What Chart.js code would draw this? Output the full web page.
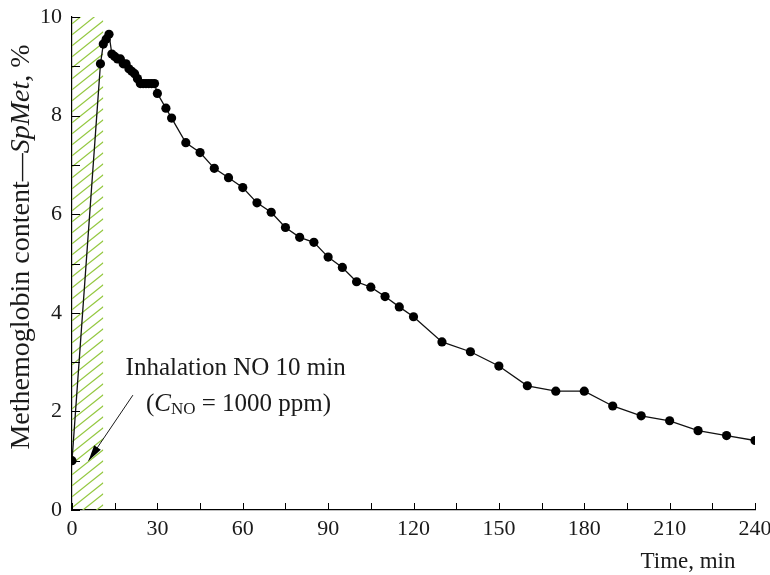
<!DOCTYPE html>
<html>
<head>
<meta charset="utf-8">
<script src="https://cdn.jsdelivr.net/npm/chart.js@4.4.1/dist/chart.umd.min.js"></script>
<style>
  html, body { margin: 0; padding: 0; background: #fff; }
  #wrap { width: 770px; height: 575px; position: relative; }
</style>
</head>
<body>
<div id="wrap"><canvas id="c" width="770" height="575"></canvas></div>
<script>
// ---- data ----
const timeMin = [0, 10, 11, 12, 13, 14, 15, 16, 17, 18, 19, 20, 21, 22, 23, 24, 25, 26, 27, 28, 29,
  30, 33, 35, 40, 45, 50, 55, 60, 65, 70, 75, 80, 85, 90, 95, 100, 105, 110, 115, 120,
  130, 140, 150, 160, 170, 180, 190, 200, 210, 220, 230, 240];
const spMet = [1.0, 9.05, 9.45, 9.55, 9.65, 9.25, 9.2, 9.15, 9.15, 9.05, 9.05, 8.95, 8.9, 8.85, 8.75, 8.65, 8.65, 8.65, 8.65, 8.65, 8.65,
  8.45, 8.15, 7.95, 7.45, 7.25, 6.93, 6.74, 6.54, 6.23, 6.04, 5.73, 5.53, 5.43, 5.13, 4.92, 4.63, 4.52, 4.33, 4.12, 3.92,
  3.41, 3.21, 2.92, 2.52, 2.41, 2.41, 2.11, 1.91, 1.81, 1.61, 1.51, 1.41];
const inhalationWindow = [0, 11];          // minutes (hatched band)
const xTickLabels = [0, 30, 60, 90, 120, 150, 180, 210, 240];
const yTickLabels = [0, 2, 4, 6, 8, 10];
const annotationLine1 = 'Inhalation NO 10 min';
const xTitle = 'Time, min';

const SERIF = '"Liberation Serif", "Times New Roman", serif';

const points = timeMin.map((t, i) => ({ x: t, y: spMet[i] }));

const customDraw = {
  id: 'customDraw',
  beforeDatasetsDraw(chart) {
    const { ctx, chartArea: a, scales: { x, y } } = chart;
    // hatched inhalation band
    const x0 = x.getPixelForValue(inhalationWindow[0]);
    const x1 = x.getPixelForValue(inhalationWindow[1]);
    ctx.save();
    ctx.beginPath();
    ctx.rect(x0, a.top, x1 - x0, a.bottom - a.top);
    ctx.clip();
    ctx.strokeStyle = '#94c840';
    ctx.lineWidth = 1.2;
    const step = 11;
    const w = x1 - x0;
    for (let k = a.top - w - 20; k < a.bottom + 20; k += step) {
      ctx.beginPath();
      ctx.moveTo(x0, k + w * 0.8);
      ctx.lineTo(x1, k);
      ctx.stroke();
    }
    ctx.restore();
  },
  afterDraw(chart) {
    const { ctx, chartArea: a, scales: { x, y } } = chart;
    ctx.save();
    // inward minor/major ticks
    ctx.strokeStyle = '#000';
    ctx.lineWidth = 1;
    for (let v = 0; v <= 240; v += 15) {
      const px = Math.round(x.getPixelForValue(v)) + 0.5;
      ctx.beginPath();
      ctx.moveTo(px, a.bottom);
      ctx.lineTo(px, a.bottom - 7);
      ctx.stroke();
    }
    for (let v = 0; v <= 10; v += 1) {
      const py = Math.round(y.getPixelForValue(v)) + 0.5;
      ctx.beginPath();
      ctx.moveTo(a.left, py);
      ctx.lineTo(a.left + 8, py);
      ctx.stroke();
    }
    // y-axis title with italic part
    ctx.fillStyle = '#1a1a1a';
    ctx.textBaseline = 'middle';
    const parts = [
      { t: 'Methemoglobin content\u2014', f: '28px ' + SERIF },
      { t: 'SpMet', f: 'italic 28px ' + SERIF },
      { t: ', %', f: '28px ' + SERIF }
    ];
    let total = 0;
    parts.forEach(p => { ctx.font = p.f; p.w = ctx.measureText(p.t).width; total += p.w; });
    ctx.translate(22, 247);
    ctx.rotate(-Math.PI / 2);
    let cx = -total / 2;
    ctx.textAlign = 'left';
    parts.forEach(p => { ctx.font = p.f; ctx.fillText(p.t, cx, 0); cx += p.w; });
    ctx.setTransform(1, 0, 0, 1, 0, 0);

    // x-axis title
    ctx.font = '23px ' + SERIF;
    ctx.textAlign = 'center';
    ctx.textBaseline = 'middle';
    ctx.fillText(xTitle, 688, 562);

    // annotation text
    ctx.font = '25px ' + SERIF;
    ctx.fillText(annotationLine1, x.getPixelForValue(57.5), y.getPixelForValue(2.88));
    // second line: (C_NO = 1000 ppm)
    const segs = [
      { t: '(', f: '25px ' + SERIF, dy: 0 },
      { t: 'C', f: 'italic 25px ' + SERIF, dy: 0 },
      { t: 'NO', f: '17px ' + SERIF, dy: 6 },
      { t: ' = 1000 ppm)', f: '25px ' + SERIF, dy: 0 }
    ];
    let tw = 0;
    segs.forEach(s => { ctx.font = s.f; s.w = ctx.measureText(s.t).width; tw += s.w; });
    let sx = x.getPixelForValue(58.5) - tw / 2;
    const sy = y.getPixelForValue(2.15);
    ctx.textAlign = 'left';
    segs.forEach(s => { ctx.font = s.f; ctx.fillText(s.t, sx, sy + s.dy); sx += s.w; });

    // arrow
    const tx = x.getPixelForValue(21.4), ty = y.getPixelForValue(2.33);
    const hx = x.getPixelForValue(5.8), hy = y.getPixelForValue(1.0);
    ctx.strokeStyle = '#1a1a1a';
    ctx.lineWidth = 1;
    ctx.beginPath();
    ctx.moveTo(tx, ty);
    ctx.lineTo(hx, hy);
    ctx.stroke();
    const ang = Math.atan2(hy - ty, hx - tx);
    const L = 16, W = 4;
    const bx = hx - L * Math.cos(ang), by = hy - L * Math.sin(ang);
    ctx.fillStyle = '#000';
    ctx.beginPath();
    ctx.moveTo(hx, hy);
    ctx.lineTo(bx + W * Math.sin(ang), by - W * Math.cos(ang));
    ctx.lineTo(bx - W * Math.sin(ang), by + W * Math.cos(ang));
    ctx.closePath();
    ctx.fill();
    ctx.restore();
  }
};

new Chart(document.getElementById('c'), {
  type: 'scatter',
  data: {
    datasets: [{
      data: points,
      showLine: true,
      borderColor: '#111',
      borderWidth: 1.3,
      backgroundColor: '#000',
      pointBackgroundColor: '#000',
      pointBorderColor: '#000',
      pointRadius: 4.6,
      pointBorderWidth: 0,
      tension: 0
    }]
  },
  options: {
    responsive: false,
    animation: false,
    devicePixelRatio: 1,
    layout: { padding: { top: 17, right: 15, left: 0, bottom: 0 } },
    plugins: { legend: { display: false }, tooltip: { enabled: false } },
    scales: {
      x: {
        type: 'linear', min: 0, max: 240,
        afterBuildTicks: s => { s.ticks = xTickLabels.map(v => ({ value: v })); },
        ticks: { color: '#1a1a1a', font: { family: SERIF, size: 22 }, padding: 6, maxRotation: 0 },
        grid: { display: false, drawTicks: false },
        border: { display: true, color: '#000', width: 1.2 },
        afterFit: s => { s.height = 65; s.paddingLeft = 0; s.paddingRight = 0; }
      },
      y: {
        type: 'linear', min: 0, max: 10,
        afterBuildTicks: s => { s.ticks = yTickLabels.map(v => ({ value: v })); },
        ticks: { color: '#1a1a1a', font: { family: SERIF, size: 22 }, padding: 10 },
        grid: { display: false, drawTicks: false },
        border: { display: true, color: '#000', width: 1.2 },
        afterFit: s => { s.width = 72; s.paddingTop = 0; s.paddingBottom = 0; }
      }
    }
  },
  plugins: [customDraw]
});
</script>
</body>
</html>
